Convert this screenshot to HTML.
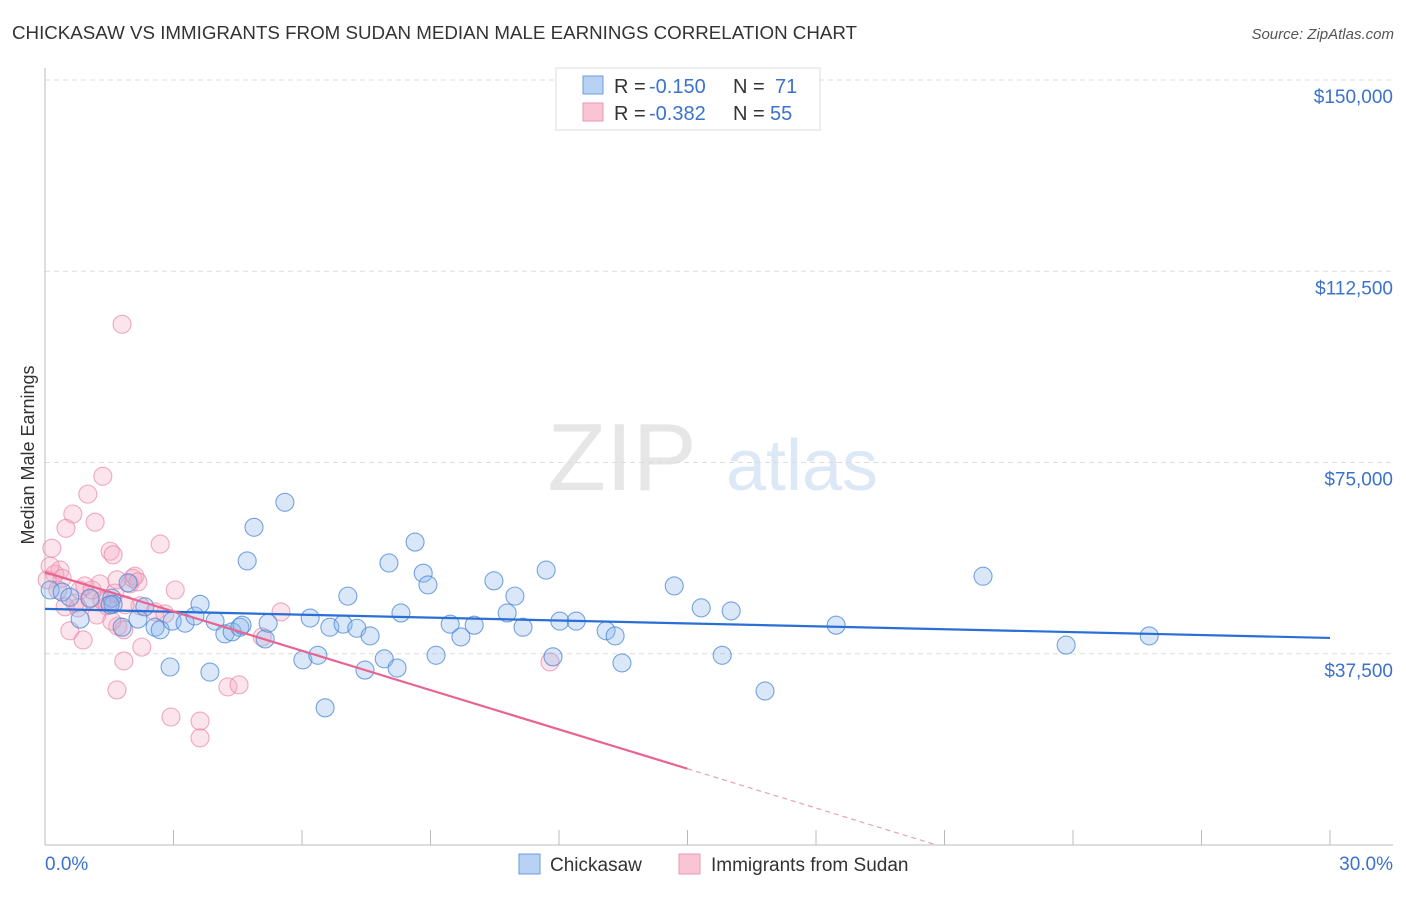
<!DOCTYPE html>
<html><head><meta charset="utf-8"><style>
body{margin:0;background:#fff;font-family:"Liberation Sans",sans-serif;}
svg text{font-family:"Liberation Sans",sans-serif;}
</style></head><body>
<svg id="chart" width="1406" height="892" xmlns="http://www.w3.org/2000/svg">
<text x="12" y="39" font-size="18" fill="#333" textLength="845" lengthAdjust="spacingAndGlyphs">CHICKASAW VS IMMIGRANTS FROM SUDAN MEDIAN MALE EARNINGS CORRELATION CHART</text>
<text x="1394" y="39" font-size="15" fill="#555" font-style="italic" text-anchor="end">Source: ZipAtlas.com</text>
<text x="622" y="490" font-size="96" fill="#e6e6e6" font-family="Liberation Serif" text-anchor="middle">ZIP</text>
<text x="802" y="490" font-size="72" fill="#dce8f6" text-anchor="middle">atlas</text>
<text transform="translate(34,455) rotate(-90)" font-size="18" fill="#333" text-anchor="middle">Median Male Earnings</text>
<g id="grid"></g><g id="pts"></g><g id="lines"></g>
<g>
<rect x="556" y="68" width="264" height="62" fill="#fff" stroke="#ddd"/>
<rect x="583" y="76" width="20" height="18" fill="#b8d2f3" stroke="#6a9be0"/>
<rect x="583" y="103" width="20" height="18" fill="#f9c4d3" stroke="#e99ab3"/>
<text x="614" y="93" font-size="20" fill="#333">R =</text>
<text x="649" y="93" font-size="20" fill="#3a72cc">-0.150</text>
<text x="733" y="93" font-size="20" fill="#333">N =</text>
<text x="775" y="93" font-size="20" fill="#3a72cc">71</text>
<text x="614" y="120" font-size="20" fill="#333">R =</text>
<text x="649" y="120" font-size="20" fill="#3a72cc">-0.382</text>
<text x="733" y="120" font-size="20" fill="#333">N =</text>
<text x="770" y="120" font-size="20" fill="#3a72cc">55</text>
</g>
<g>
<rect x="519" y="854" width="21" height="20" fill="#b8d2f3" stroke="#6a9be0"/>
<text x="550" y="871" font-size="19" fill="#333">Chickasaw</text>
<rect x="679" y="854" width="21" height="20" fill="#f9c4d3" stroke="#e99ab3"/>
<text x="711" y="871" font-size="19" fill="#333">Immigrants from Sudan</text>
</g>
</svg>
<script>
const yTicks=[37500,75000,112500,150000];
const yTickLabels=["$37,500","$75,000","$112,500","$150,000"];
const xTickLabels=["0.0%","30.0%"];
const blueX=[0.12,0.40,0.82,1.05,1.56,1.59,1.80,1.94,2.17,2.33,2.57,2.69,2.97,2.92,3.27,3.50,3.62,3.85,3.97,4.20,4.37,4.55,4.60,4.88,4.72,5.14,5.21,5.60,6.02,6.19,6.37,6.54,6.65,6.96,7.07,7.28,7.47,7.59,7.92,8.03,8.22,8.31,8.64,8.83,8.94,9.13,9.46,9.71,10.02,10.48,10.79,10.97,11.16,11.70,11.86,12.02,12.40,13.10,13.31,13.47,14.69,15.32,15.81,16.02,16.81,18.47,21.90,23.84,25.78,1.52,0.58];
const blueY=[50.0,49.6,44.3,48.4,48.4,47.2,42.7,51.4,44.3,46.7,42.7,42.2,43.9,34.9,43.5,44.9,47.2,33.9,43.9,41.4,41.8,42.7,43.1,62.3,55.7,40.4,43.5,67.2,36.3,44.5,37.2,26.9,42.7,43.3,48.8,42.5,34.3,41.0,36.5,55.3,34.7,45.5,59.4,53.3,51.0,37.2,43.3,40.8,43.1,51.8,45.5,48.8,42.7,53.9,36.9,43.9,43.9,42.0,41.0,35.7,50.8,46.5,37.2,45.9,30.2,43.1,52.7,39.2,41.0,47.1,48.6];
const pinkX=[0.16,0.23,0.35,0.40,0.49,0.58,0.65,0.70,0.82,0.89,1.00,1.05,1.17,1.21,1.28,1.35,1.47,1.52,1.59,1.63,1.68,1.70,1.80,1.84,1.84,1.98,2.05,2.10,2.22,2.26,2.69,2.80,2.94,3.04,3.62,3.62,4.27,4.53,5.07,5.51,11.79,0.05,0.12,0.30,0.47,0.93,1.33,1.45,1.56,1.87,2.57,1.68,1.10,2.17,0.77];
const pinkY=[58.2,53.1,53.9,52.3,62.1,42.0,64.9,47.4,50.0,40.2,68.8,48.2,63.3,45.1,51.2,72.3,48.0,57.6,56.9,49.4,30.4,42.9,102.1,36.1,42.2,51.2,52.3,52.7,46.9,38.8,59.0,45.3,25.1,50.0,24.3,21.0,31.0,31.4,40.8,45.7,35.9,52.0,54.7,50.0,46.7,50.8,48.0,46.9,43.9,47.1,45.7,52.0,50.0,51.6,46.5];
const blueTrend=[46.3,40.6];
const pinkTrend=[53.5,-2.57];
const NS="http://www.w3.org/2000/svg";
const sx=v=>45+v*(1330-45)/30;
function mk(tag,attrs,parent){const e=document.createElementNS(NS,tag);for(const k in attrs)e.setAttribute(k,attrs[k]);parent.appendChild(e);return e;}
const syD=v=>845-(v)*(845-80)/150000;
const grid=document.getElementById('grid');
yTicks.forEach((t,i)=>{
 const l=mk('line',{x1:45,x2:1393,y1:syD(t),y2:syD(t),stroke:'#ddd','stroke-dasharray':'5,4'},grid);
 
 
 const tx=mk('text',{x:1393,y:syD(t)+23,'font-size':19,fill:'#3a72cc','text-anchor':'end'},grid);
 tx.textContent=yTickLabels[i];
 
 
});
const ax=mk('line',{x1:45,x2:45,y1:68,y2:845,stroke:'#bbb'},grid);


const bx=mk('line',{x1:45,x2:1393,y1:845,y2:845,stroke:'#bbb'},grid);


for(let i=0;i<=10;i++){
 const t=mk('line',{x1:sx(i*3),x2:sx(i*3),y1:830,y2:845,stroke:'#bbb'},grid);
 
 
}
[[0,45,'start'],[30,1393,'end']].forEach((d,i)=>{
 const tx=mk('text',{x:d[1],y:870,'font-size':19,fill:'#3a72cc','text-anchor':d[2]},grid);
 tx.textContent=xTickLabels[i];
 
 
});
const pts=document.getElementById('pts');
pinkX.forEach((x,i)=>{
 const c=mk('circle',{cx:sx(x),cy:syD(pinkY[i]*1000),r:9,fill:'rgba(245,165,192,0.3)',stroke:'rgba(232,135,168,0.7)','stroke-width':1.1},pts);
 
 
});
blueX.forEach((x,i)=>{
 const c=mk('circle',{cx:sx(x),cy:syD(blueY[i]*1000),r:9,fill:'rgba(140,182,236,0.33)',stroke:'rgba(75,135,215,0.75)','stroke-width':1.1},pts);
 
 
});
const lines=document.getElementById('lines');
const bl=mk('line',{x1:sx(0),y1:syD(blueTrend[0]*1000),x2:sx(30),y2:syD(blueTrend[1]*1000),stroke:'#2a6fd6','stroke-width':2.2},lines);


const pf=x=>(pinkTrend[0]+pinkTrend[1]*x)*1000;
const pl=mk('line',{x1:sx(0),y1:syD(pf(0)),x2:sx(15),y2:syD(pf(15)),stroke:'#e8638f','stroke-width':2.2},lines);


const xz=-pinkTrend[0]/pinkTrend[1];
const pd=mk('line',{x1:sx(15),y1:syD(pf(15)),x2:sx(xz),y2:syD(0),stroke:'#e8a0b8','stroke-width':1.2,'stroke-dasharray':'5,4'},lines);


</script>
</body></html>
